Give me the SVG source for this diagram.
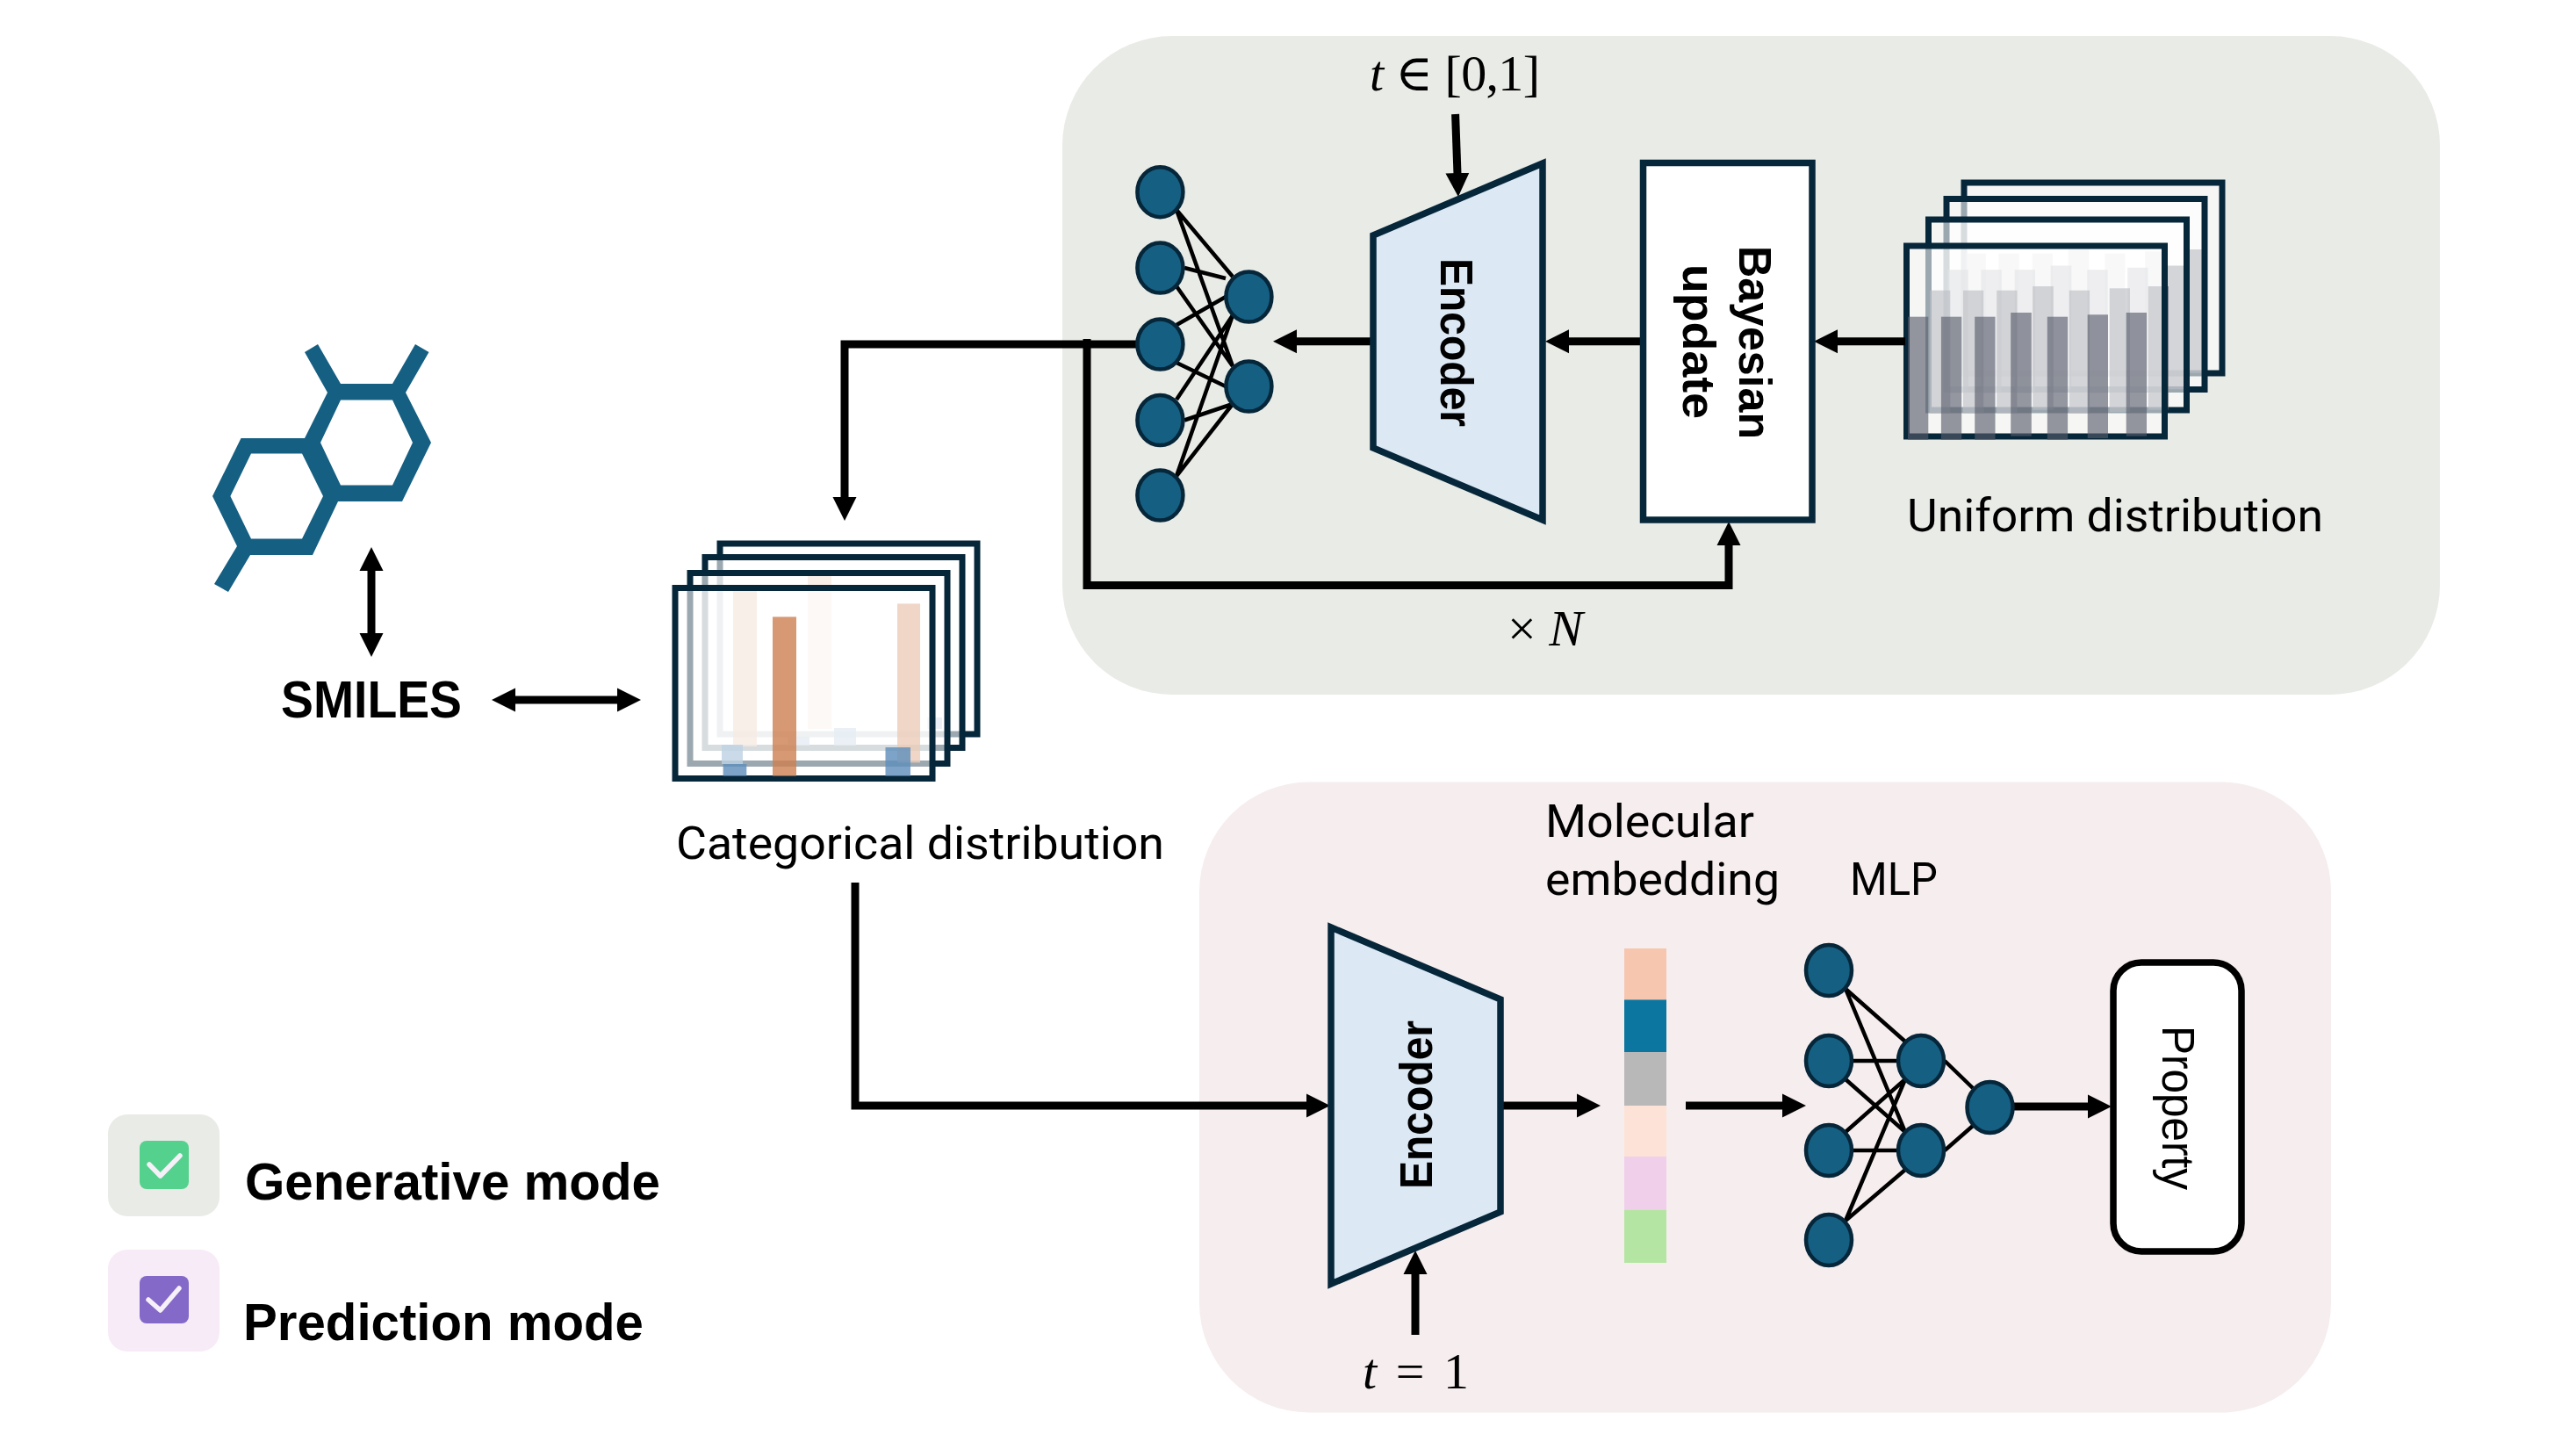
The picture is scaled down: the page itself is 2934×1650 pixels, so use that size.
<svg xmlns="http://www.w3.org/2000/svg" xmlns:xlink="http://www.w3.org/1999/xlink" width="2934" height="1650" viewBox="0 0 2934 1650">
<style>
.lab{font-family:Roboto,"Liberation Sans",sans-serif;font-weight:400;font-size:52px;fill:#000}
.bold{font-family:"Liberation Sans",Arial,sans-serif;font-weight:700;fill:#000}
.math{font-family:"Liberation Serif","DejaVu Serif",serif;font-size:58px;fill:#000}
.conn{fill:none;stroke:#000;stroke-width:9}
.thin{fill:none;stroke:#000;stroke-width:4.5}
.n{fill:#155f82;stroke:#06263a;stroke-width:4.5}
.enc{fill:#dce9f5;stroke:#06263a;stroke-width:7.5}
.frame{fill:#fff;fill-opacity:.6;stroke:#06263a;stroke-width:7}
.ub{fill:#575c6a;opacity:.63}
.co{fill:#cd7f50;opacity:.8}
.cb{fill:#5c8dba;opacity:.8}
</style>
<defs>
<marker id="ah" markerUnits="userSpaceOnUse" markerWidth="28" markerHeight="28" refX="1" refY="14" orient="auto-start-reverse" viewBox="0 0 28 28"><path d="M0,0.5 L27,14 L0,27.5z" fill="#000"/></marker>
<g id="uni">
<rect class="frame" x="2171.5" y="280" width="294" height="217"/>
<rect class="ub" x="2173" y="360.7" width="23.3" height="140.3"/>
<rect class="ub" x="2210.9" y="360.7" width="23.3" height="140.3"/>
<rect class="ub" x="2249.2" y="360.7" width="23.3" height="140.3"/>
<rect class="ub" x="2290.2" y="356" width="23.6" height="140.7"/>
<rect class="ub" x="2331.8" y="360.7" width="23.3" height="140.3"/>
<rect class="ub" x="2377.7" y="358.3" width="23.3" height="140.7"/>
<rect class="ub" x="2421.7" y="356" width="23.3" height="140.7"/>
</g>
</defs>

<rect id="panel-generative" x="1210" y="41" width="1569" height="750" rx="125" fill="#e9ebe6"/>
<rect id="panel-prediction" x="1366" y="890.5" width="1289" height="718" rx="125" fill="#f6edee"/>

<g id="molecule"><path fill="#155f82" fill-rule="evenodd" d="M347,401L362,392L388,437H447L473,392L488.5,401L462,447L491,504L458,571H385L356,632H285L260,674L244,665L270,622L242,565L274.5,499H347L373,447Z M388,455.5L365,504L388,552.6H447L470,504L447,455.5Z M286,516.5L262.4,565L286,613.6H344L368,565L344,516.5Z"/></g>

<g id="smiles"><text class="bold" x="320" y="817" font-size="60" textLength="206" lengthAdjust="spacingAndGlyphs">SMILES</text></g>

<g id="categorical-stack">
<rect class="frame" x="820" y="619" width="293" height="217"/>
<rect class="co" x="920" y="656" width="27" height="174"/>
<rect class="cb" x="1056" y="817" width="17" height="13"/>
<rect class="frame" x="803" y="634.5" width="293" height="217"/>
<rect class="co" x="835" y="673" width="27" height="177"/>
<rect class="cb" x="897" y="839" width="25" height="10"/>
<rect class="cb" x="950" y="829" width="25" height="20"/>
<rect class="frame" x="786" y="652.5" width="293" height="217"/>
<rect class="co" x="1022" y="687.4" width="26" height="181"/>
<rect class="cb" x="822" y="848" width="24" height="22"/>
<rect class="frame" x="769" y="669.5" width="293" height="217"/>
<rect class="co" x="880" y="702.4" width="27" height="181.3"/>
<rect class="cb" x="823.6" y="870" width="26.7" height="13.7"/>
<rect class="cb" x="1008.5" y="851" width="28.5" height="32.7"/>
</g>
<g id="categorical-label"><text class="lab" x="770" y="978" textLength="556" lengthAdjust="spacingAndGlyphs">Categorical distribution</text></g>

<g id="uniform-stack">
<use xlink:href="#uni" href="#uni" transform="translate(65.5,-72)"/>
<use xlink:href="#uni" href="#uni" transform="translate(45.5,-53.5)"/>
<use xlink:href="#uni" href="#uni" transform="translate(25,-30)"/>
<use xlink:href="#uni" href="#uni"/>
</g>
<g id="uniform-label"><text class="lab" x="2172" y="605" textLength="474" lengthAdjust="spacingAndGlyphs">Uniform distribution</text></g>

<g id="connectors">
<path class="conn" d="M1294,392H962V567" marker-end="url(#ah)"/>
<path class="conn" d="M1238,386V666.4H1969V620" marker-end="url(#ah)"/>
<path class="conn" d="M1564,388.7H1476" marker-end="url(#ah)"/>
<path class="conn" d="M1871,388.7H1786" marker-end="url(#ah)"/>
<path class="conn" d="M2170,388.7H2092" marker-end="url(#ah)"/>
<path class="conn" d="M1657.6,130L1660,198" marker-end="url(#ah)"/>
<path class="conn" d="M423,649V722" marker-start="url(#ah)" marker-end="url(#ah)"/>
<path class="conn" d="M586,797H704" marker-start="url(#ah)" marker-end="url(#ah)"/>
<path class="conn" d="M974,1005V1259H1489" marker-end="url(#ah)"/>
<path class="conn" d="M1712,1259H1797" marker-end="url(#ah)"/>
<path class="conn" d="M1920,1259H2031" marker-end="url(#ah)"/>
<path class="conn" d="M2290,1260H2379" marker-end="url(#ah)"/>
<path class="conn" d="M1612,1520V1450" marker-end="url(#ah)"/>
</g>

<g id="network-top">
<path class="thin" d="M1340,239L1404,315M1340,239L1404,417M1349,305L1396,317M1340,326L1404,417M1340,370L1396,338M1340,413L1396,440M1340,455L1404,359M1349,478.5L1404,460M1340,542L1404,359M1340,542L1404,460"/>
<ellipse class="n" cx="1321.4" cy="218.7" rx="26" ry="28.5"/>
<ellipse class="n" cx="1321.4" cy="305" rx="26" ry="28.5"/>
<ellipse class="n" cx="1321.4" cy="392" rx="26" ry="28.5"/>
<ellipse class="n" cx="1321.4" cy="478.5" rx="26" ry="28.5"/>
<ellipse class="n" cx="1321.4" cy="564" rx="26" ry="28.5"/>
<ellipse class="n" cx="1422.4" cy="338" rx="26" ry="28.5"/>
<ellipse class="n" cx="1422.4" cy="440" rx="26" ry="28.5"/>
</g>

<g id="encoder-top">
<polygon class="enc" points="1564,268 1757,186 1757,592 1564,510"/>
<text class="bold" transform="translate(1641,294) rotate(90)" font-size="52" textLength="192" lengthAdjust="spacingAndGlyphs">Encoder</text>
</g>
<g id="bayesian-update">
<rect x="1871.5" y="185.5" width="192.5" height="406.5" fill="#fff" stroke="#06263a" stroke-width="7.5"/>
<text class="bold" transform="translate(1981,280) rotate(90)" font-size="52" textLength="220" lengthAdjust="spacingAndGlyphs">Bayesian</text>
<text class="bold" transform="translate(1917,301) rotate(90)" font-size="52" textLength="176" lengthAdjust="spacingAndGlyphs">update</text>
</g>
<g id="label-t-range"><text class="math" x="1560" y="103" textLength="194"><tspan font-style="italic">t</tspan> ∈ [0,1]</text></g>
<g id="label-n"><text class="math" x="1717" y="735" textLength="86">× <tspan font-style="italic">N</tspan></text></g>

<g id="encoder-bottom">
<polygon class="enc" points="1516,1056 1709,1138 1709,1380 1516,1462"/>
<text class="bold" transform="translate(1631,1354) rotate(-90)" font-size="52" textLength="192" lengthAdjust="spacingAndGlyphs">Encoder</text>
</g>
<g id="label-t-one"><text class="math" x="1552" y="1581" textLength="121"><tspan font-style="italic">t</tspan> = 1</text></g>

<g id="embedding">
<rect x="1850" y="1080" width="48" height="58.4" fill="#f6c6af"/>
<rect x="1850" y="1138.4" width="48" height="59.6" fill="#0c76a0"/>
<rect x="1850" y="1198" width="48" height="61" fill="#b8b8b8"/>
<rect x="1850" y="1259" width="48" height="58" fill="#fce2d7"/>
<rect x="1850" y="1317" width="48" height="60.6" fill="#f0cfeb"/>
<rect x="1850" y="1377.6" width="48" height="60.4" fill="#b5e5a2"/>
</g>
<g id="embedding-label">
<text class="lab" x="1760" y="953" textLength="238" lengthAdjust="spacingAndGlyphs">Molecular</text>
<text class="lab" x="1760" y="1019" textLength="267" lengthAdjust="spacingAndGlyphs">embedding</text>
</g>
<g id="mlp-label"><text class="lab" x="2107" y="1019" textLength="100" lengthAdjust="spacingAndGlyphs">MLP</text></g>

<g id="network-bottom">
<path class="thin" d="M2102,1126L2170,1186M2102,1126L2170,1289M2102,1208H2170M2102,1229L2170,1289M2102,1289L2170,1229M2102,1310H2170M2102,1390L2170,1229M2102,1390L2170,1332M2215,1208L2247,1239M2215,1310L2247,1282"/>
<ellipse class="n" cx="2083" cy="1105" rx="26" ry="29"/>
<ellipse class="n" cx="2083" cy="1208" rx="26" ry="29"/>
<ellipse class="n" cx="2083" cy="1310" rx="26" ry="29"/>
<ellipse class="n" cx="2083" cy="1412" rx="26" ry="29"/>
<ellipse class="n" cx="2188" cy="1208" rx="26" ry="29"/>
<ellipse class="n" cx="2188" cy="1310" rx="26" ry="29"/>
<ellipse class="n" cx="2266.5" cy="1261" rx="26" ry="29"/>
</g>

<g id="property">
<rect x="2407" y="1096" width="146" height="329" rx="32" fill="#fff" stroke="#000" stroke-width="7.5"/>
<text transform="translate(2463,1168) rotate(90)" font-family="Liberation Sans,Arial,sans-serif" font-size="51" textLength="187" lengthAdjust="spacingAndGlyphs">Property</text>
</g>

<g id="legend-generative">
<rect x="123" y="1269" width="127" height="116" rx="22" fill="#e9ebe6"/>
<rect x="159" y="1299" width="56" height="55" rx="8" fill="#55d18e"/>
<path d="M170,1326L182.6,1339L205,1316" fill="none" stroke="#f6f0f8" stroke-width="5.5" stroke-linecap="round" stroke-linejoin="round"/>
<text class="bold" x="279" y="1366" font-size="60" textLength="473" lengthAdjust="spacingAndGlyphs">Generative mode</text>
</g>
<g id="legend-prediction">
<rect x="123" y="1423" width="127" height="116" rx="22" fill="#f6ebf6"/>
<rect x="159" y="1453" width="56" height="54" rx="8" fill="#8469c8"/>
<path d="M169,1480L182.6,1492L204,1467" fill="none" stroke="#f6f0f8" stroke-width="5.5" stroke-linecap="round" stroke-linejoin="round"/>
<text class="bold" x="277" y="1526" font-size="60" textLength="456" lengthAdjust="spacingAndGlyphs">Prediction mode</text>
</g>
</svg>
